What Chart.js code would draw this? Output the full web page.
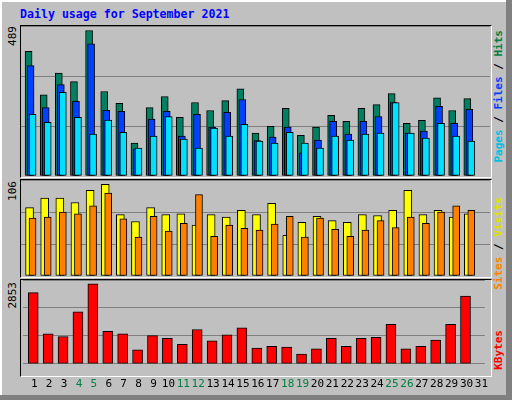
<!DOCTYPE html>
<html>
<head>
<meta charset="utf-8">
<script src="https://cdn.jsdelivr.net/npm/chart.js@4/dist/chart.umd.min.js"></script>
<style>
  body { margin: 0; background: #fff; }
  #wrap { position: relative; width: 512px; height: 400px; background: #c0c0c0; overflow: hidden;
          font-family: "DejaVu Sans Mono", monospace; }
  #wrap .edgeR { position: absolute; right: 0; top: 0; width: 6px; height: 400px; background: #808080; }
  #wrap .edgeB { position: absolute; left: 0; bottom: 0; width: 512px; height: 5px; background: #808080; }
  #wrap .edgeL { position: absolute; left: 0; top: 0; width: 2px; height: 400px; background: #fff; }
  #wrap .edgeT { position: absolute; left: 0; top: 0; width: 512px; height: 2px; background: #fff; }
  .title { position: absolute; left: 20px; top: 7px; color: #0000ff; font-weight: bold; font-size: 11.6px; }
  .panel { position: absolute; left: 20px; width: 470px; border-top: 1px solid #000; border-left: 1px solid #000;
           border-right: 1px solid #fff; border-bottom: 1px solid #fff; }
  .vt { position: absolute; writing-mode: vertical-rl; transform: rotate(180deg); font-size: 11px; white-space: nowrap; }
  canvas { position: absolute; }
</style>
</head>
<body>
<div id="wrap">
  <div class="edgeT"></div><div class="edgeL"></div><div class="edgeR"></div><div class="edgeB"></div>
  <div class="title">Daily usage for September 2021</div>
  <div class="panel" style="top:25px;height:151px"></div>
  <div class="panel" style="top:179px;height:97px"></div>
  <div class="panel" style="top:279px;height:96px"></div>
  <div class="vt" style="left:6px;top:26px;color:#000">489</div>
  <div class="vt" style="left:6px;top:181px;color:#000">106</div>
  <div class="vt" style="left:6px;top:282px;color:#000">2853</div>
  <div class="vt" style="left:492px;top:30px;font-weight:bold"><span style="color:#00c0e0">Pages</span> / <span style="color:#0040ff">Files</span> / <span style="color:#008040">Hits</span></div>
  <div class="vt" style="left:492px;top:197px;font-weight:bold"><span style="color:#ff8000">Sites</span> / <span style="color:#e0e000">Visits</span></div>
  <div class="vt" style="left:492px;top:330px;font-weight:bold"><span style="color:#ff0000">KBytes</span></div>
  <canvas id="c1" style="left:21px;top:26px"></canvas>
  <canvas id="c2" style="left:21px;top:180px"></canvas>
  <canvas id="c3" style="left:21px;top:280px"></canvas>
</div>
<script>
const days = ["1","2","3","4","5","6","7","8","9","10","11","12","13","14","15","16","17","18","19","20","21","22","23","24","25","26","27","28","29","30","31"];
const weekendDays = ["4","5","11","12","18","19","25","26"];
const hits   = [419,273,346,317,489,284,244,111,230,267,197,247,220,253,293,144,167,227,137,164,204,184,227,240,277,177,187,263,220,260,0];
const files  = [371,230,307,251,444,221,217,91,191,217,134,207,164,214,257,119,131,164,78,121,184,141,184,200,247,144,151,234,177,224,0];
const pages  = [207,180,281,197,141,188,147,94,134,200,124,94,161,134,174,117,111,147,111,94,134,121,141,144,247,144,127,177,134,117,0];
const sites  = [79,90,90,85,99,106,71,63,79,71,72,59,71,68,76,71,84,47,62,69,64,62,71,70,76,99,71,76,68,72,0];
const visits = [67,68,74,72,81,96,66,45,69,52,61,94,46,59,55,53,60,69,45,67,54,46,53,64,56,68,61,74,81,76,0];
const kbytes = [2539,1066,972,1850,2853,1160,1066,502,1003,909,690,1223,815,1035,1285,564,627,596,345,533,909,627,909,941,1411,533,627,846,1411,2414,0];

// shift bars horizontally by a few pixels so they overlap like webalizer
const shiftPlugin = {
  id: "shift",
  afterDatasetsUpdate(chart) {
    chart.data.datasets.forEach((ds, i) => {
      chart.getDatasetMeta(i).data.forEach(el => { el.x += ds.shift || 0; });
    });
  }
};

function makeChart(id, w, h, datasets, maxVal, showX) {
  const c = document.getElementById(id);
  c.width = w; c.height = h;
  c.style.width = w + "px"; c.style.height = h + "px";
  return new Chart(c, {
    type: "bar",
    data: { labels: days, datasets: datasets.map(d => Object.assign({
      borderColor: "#000", borderWidth: 1, borderSkipped: false, grouped: false
    }, d)) },
    options: {
      responsive: false,
      animation: false,
      layout: { padding: 0 },
      plugins: { legend: { display: false }, tooltip: { enabled: false } },
      scales: {
        x: {
          display: showX,
          grid: { display: false },
          border: { display: false },
          ticks: {
            padding: 6,
            labelOffset: 4,
            maxRotation: 0,
            autoSkip: false,
            font: { family: "DejaVu Sans Mono", size: 11 },
            color: ctx => weekendDays.includes(days[ctx.index]) ? "#008040" : "#000"
          }
        },
        y: {
          min: 0,
          max: maxVal,
          afterBuildTicks: s => { s.ticks = [0, 1, 2, 3].map(k => ({ value: maxVal * k / 3 })); },
          grid: { color: "#808080", lineWidth: 1, drawTicks: false },
          border: { display: false },
          ticks: { display: false }
        }
      }
    },
    plugins: [shiftPlugin]
  });
}

makeChart("c1", 469, 150, [
  { data: pages, backgroundColor: "#00e0ff", barThickness: 7, shift: 4 },
  { data: files, backgroundColor: "#0040ff", barThickness: 7, shift: 2 },
  { data: hits,  backgroundColor: "#008060", barThickness: 7, shift: 0 }
], 504, false);

makeChart("c2", 469, 96, [
  { data: visits, backgroundColor: "#ff8000", barThickness: 7, shift: 4 },
  { data: sites,  backgroundColor: "#ffff00", barThickness: 8, shift: 1 }
], 111, false);

makeChart("c3", 469, 117, [
  { data: kbytes, backgroundColor: "#ff0000", barThickness: 10, shift: 3 }
], 2988, true);
</script>
</body>
</html>
